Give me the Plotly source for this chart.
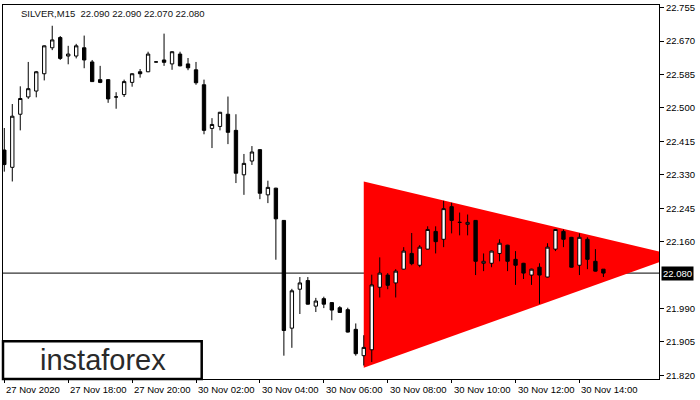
import plotly.graph_objects as go

# ---- data (SILVER, M15) ----
opens = [22.393, 22.349, 22.484, 22.528, 22.543, 22.587, 22.653, 22.679, 22.632, 22.632,
         22.653, 22.617, 22.572, 22.572, 22.528, 22.534, 22.565, 22.592, 22.592, 22.617,
         22.622, 22.612, 22.637, 22.612, 22.597, 22.559, 22.448, 22.453, 22.484, 22.443,
         22.330, 22.365, 22.394, 22.279, 22.296, 22.214, 21.940, 22.039, 22.061, 21.996,
         22.015, 22.005, 21.992, 21.987, 21.937, 21.870, 21.885, 22.044, 22.075, 22.055,
         22.090, 22.130, 22.100, 22.141, 22.186, 22.166, 22.249, 22.209, 22.204, 22.214,
         22.105, 22.105, 22.130, 22.151, 22.115, 22.105, 22.075, 22.095, 22.070, 22.141,
         22.186, 22.171, 22.100, 22.166, 22.110, 22.090]
highs = [22.449, 22.510, 22.555, 22.617, 22.594, 22.659, 22.709, 22.683, 22.658, 22.663,
         22.684, 22.622, 22.607, 22.573, 22.540, 22.572, 22.588, 22.599, 22.643, 22.618,
         22.689, 22.644, 22.643, 22.627, 22.617, 22.572, 22.474, 22.490, 22.529, 22.484,
         22.383, 22.403, 22.395, 22.315, 22.297, 22.215, 22.040, 22.070, 22.070, 22.017,
         22.020, 22.006, 21.996, 21.992, 21.952, 21.922, 22.076, 22.120, 22.080, 22.090,
         22.146, 22.182, 22.151, 22.199, 22.199, 22.264, 22.259, 22.234, 22.229, 22.215,
         22.130, 22.137, 22.166, 22.152, 22.136, 22.106, 22.091, 22.105, 22.156, 22.192,
         22.191, 22.172, 22.181, 22.171, 22.141, 22.090]
lows = [22.338, 22.313, 22.443, 22.523, 22.527, 22.570, 22.647, 22.622, 22.611, 22.626,
        22.601, 22.566, 22.563, 22.513, 22.498, 22.528, 22.554, 22.577, 22.591, 22.616,
        22.607, 22.597, 22.606, 22.596, 22.559, 22.433, 22.398, 22.443, 22.408, 22.309,
        22.279, 22.355, 22.268, 22.258, 22.114, 21.870, 21.890, 21.976, 22.000, 21.981,
        21.991, 21.960, 21.979, 21.929, 21.870, 21.845, 21.854, 22.018, 22.039, 22.018,
        22.089, 22.100, 22.095, 22.140, 22.130, 22.146, 22.181, 22.176, 22.176, 22.075,
        22.085, 22.095, 22.110, 22.085, 22.050, 22.065, 22.050, 22.002, 22.069, 22.136,
        22.146, 22.094, 22.075, 22.090, 22.084, 22.070]
closes = [22.356, 22.479, 22.524, 22.549, 22.592, 22.658, 22.673, 22.626, 22.637, 22.658,
          22.622, 22.567, 22.565, 22.523, 22.528, 22.567, 22.587, 22.587, 22.637, 22.617,
          22.616, 22.643, 22.607, 22.602, 22.564, 22.443, 22.458, 22.489, 22.438, 22.334,
          22.359, 22.388, 22.283, 22.298, 22.218, 21.934, 22.035, 22.055, 22.001, 22.009,
          22.001, 21.986, 21.980, 21.930, 21.875, 21.891, 22.050, 22.080, 22.049, 22.085,
          22.136, 22.104, 22.146, 22.191, 22.160, 22.244, 22.214, 22.209, 22.209, 22.110,
          22.110, 22.136, 22.156, 22.110, 22.100, 22.080, 22.090, 22.075, 22.146, 22.191,
          22.166, 22.095, 22.171, 22.115, 22.085, 22.080]

time_labels = ["27 Nov 2020", "27 Nov 18:00", "27 Nov 20:00", "30 Nov 02:00", "30 Nov 04:00",
               "30 Nov 06:00", "30 Nov 08:00", "30 Nov 10:00", "30 Nov 12:00", "30 Nov 14:00"]
bars_per_label = 8

price_ticks = [21.820, 21.905, 21.990, 22.160, 22.245, 22.330, 22.415, 22.500, 22.585, 22.670, 22.755]
current_price = 22.080

# symmetrical triangle pattern (bar index, price)
tri_bars = [45, 84.2, 45]
tri_prices = [22.313, 22.124, 21.839]

title_text = "SILVER,M15  22.090 22.090 22.070 22.080"

# ---- figure ----
n = len(opens)
xs = list(range(n))
FONT = "Liberation Sans, Arial, sans-serif"

fig = go.Figure()

fig.add_trace(go.Candlestick(
    x=xs, open=opens, high=highs, low=lows, close=closes,
    increasing=dict(fillcolor="white", line=dict(color="black", width=1)),
    decreasing=dict(fillcolor="black", line=dict(color="black", width=1)),
    whiskerwidth=0, showlegend=False, hoverinfo="skip"))

tick_pos = [i * bars_per_label for i in range(len(time_labels))]

annotations = []
for pos, lab in zip(tick_pos, time_labels):
    annotations.append(dict(
        x=pos, xref="x", y=0, yref="paper", yshift=-10, text=lab, showarrow=False,
        xanchor="left", yanchor="middle", font=dict(family=FONT, size=9.5, color="black")))

annotations.append(dict(
    x=0.0244, xref="paper", y=0.976, yref="paper", text=title_text, showarrow=False,
    xanchor="left", yanchor="middle", font=dict(family=FONT, size=9.5, color="#111111")))

annotations.append(dict(
    x=1, xref="paper", xshift=2, y=current_price, yref="y", text=f"{current_price:.3f}",
    showarrow=False, xanchor="left", yanchor="middle", bgcolor="black", borderpad=1,
    font=dict(family=FONT, size=9.5, color="white")))

annotations.append(dict(
    x=0.153, xref="paper", y=0.05, yref="paper", text="instaforex", showarrow=False,
    xanchor="center", yanchor="middle", font=dict(family=FONT, size=29, color="#2a2a2a")))

tri_path = "M {} {} L {} {} L {} {} Z".format(tri_bars[0], tri_prices[0], tri_bars[1], tri_prices[1],
                                              tri_bars[2], tri_prices[2])

shapes = [
    dict(type="path", xref="x", yref="y", path=tri_path, fillcolor="#ff0000",
         line=dict(width=0), layer="below"),
    dict(type="line", xref="paper", yref="y", x0=0, x1=1, y0=current_price, y1=current_price,
         line=dict(color="black", width=1), layer="below"),
    dict(type="rect", xref="paper", yref="paper", x0=0.0, x1=0.3029, y0=0.0, y1=0.1008,
         line=dict(color="black", width=2.5), fillcolor="white", layer="above"),
]

fig.update_layout(
    width=700, height=400,
    margin=dict(l=2, r=41, t=2, b=21),
    paper_bgcolor="white", plot_bgcolor="white",
    boxgap=0.4,
    xaxis=dict(range=[-0.1625, 81.96], tickvals=tick_pos, showticklabels=False,
               ticks="outside", ticklen=3, tickcolor="black", showgrid=False, zeroline=False,
               showline=True, linecolor="black", linewidth=1, mirror=True,
               rangeslider=dict(visible=False), fixedrange=True),
    yaxis=dict(range=[21.8107, 22.7618], side="right", tickvals=price_ticks,
               ticktext=[f"{v:.3f}" for v in price_ticks],
               ticks="outside", ticklen=4, tickcolor="black", showgrid=False, zeroline=False,
               showline=True, linecolor="black", linewidth=1, mirror=True,
               ticklabeloverflow="allow",
               tickfont=dict(family=FONT, size=9.5, color="black"), fixedrange=True),
    shapes=shapes,
    annotations=annotations,
    showlegend=False,
)

fig.write_html("out.html", config={"displayModeBar": False},
               post_script="document.body.style.margin='0';")
